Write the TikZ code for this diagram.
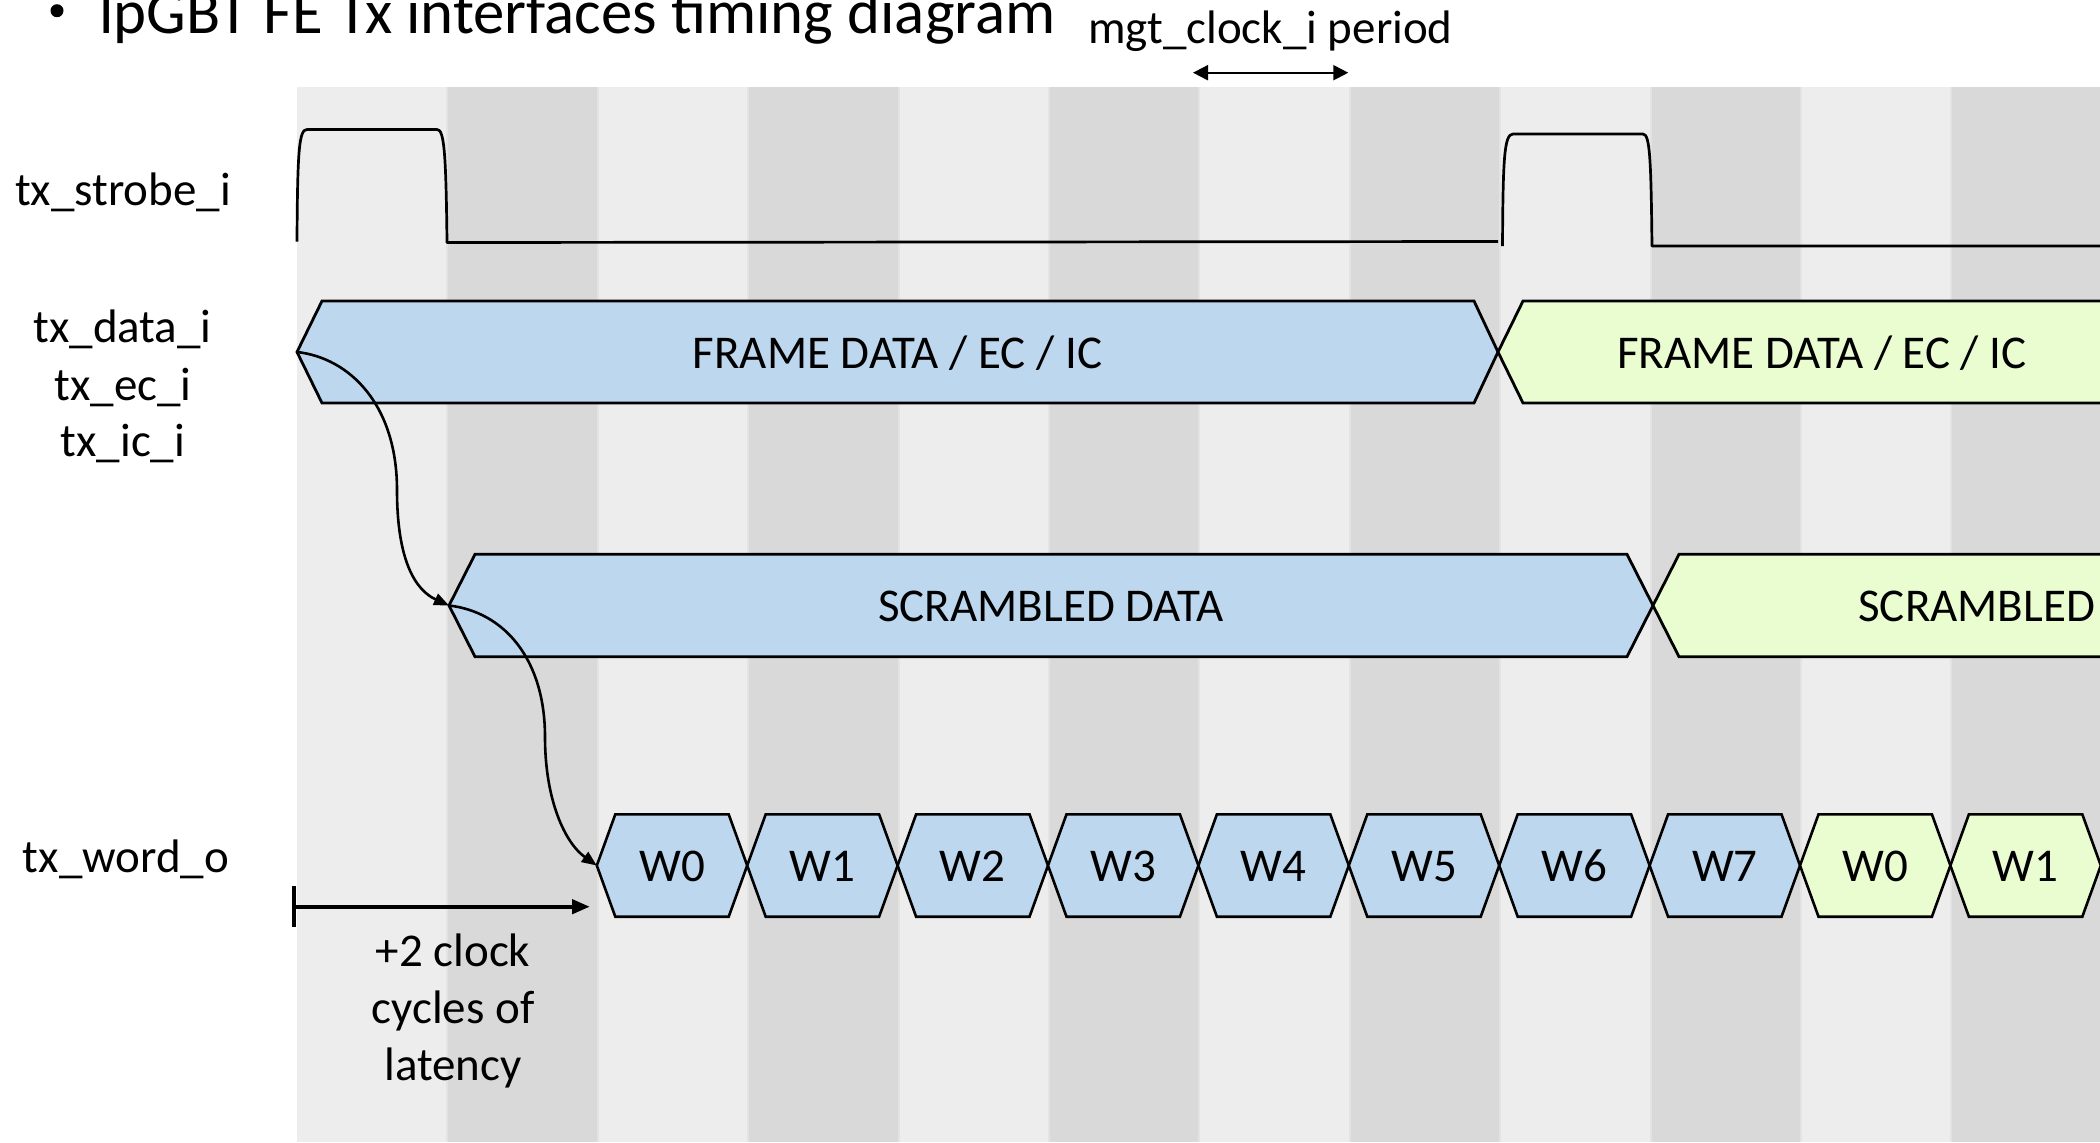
\documentclass[tikz,border=0pt]{standalone}
\usepackage{fontspec}
\setmainfont{Carlito}
\usetikzlibrary{arrows.meta}
\definecolor{stripeL}{HTML}{EDEDED}
\definecolor{stripeD}{HTML}{D9D9D9}
\definecolor{stripeSep}{HTML}{E3E3E3}
\definecolor{busBlue}{HTML}{BDD7EE}
\definecolor{busGreen}{HTML}{EAFDD1}
\begin{document}
\begin{tikzpicture}[x=0.5pt,y=-0.5pt,
  lbl/.style={inner sep=0pt, anchor=base, font=\fontsize{23.5}{28}\selectfont},
  sig/.style={line width=1.35pt, line join=round},
  busbox/.style={draw=black, line width=1.4pt, line join=miter},
  wordbox/.style={draw=black, line width=1.3pt, line join=miter},
  curvearrow/.style={line width=1.3pt, -{Triangle[length=7.5pt,width=6pt]}},
  latarrow/.style={line width=2.2pt, -{Triangle[length=9pt,width=7pt]}},
  periodarrow/.style={line width=1pt, {Triangle[length=7.5pt,width=7.5pt]}-{Triangle[length=7.5pt,width=7.5pt]}}
]
\useasboundingbox (0,0) rectangle (2100,1142);
\clip (0,0) rectangle (2100,1142);

% clock-period stripes
\foreach \i in {0,2,...,10} {
  \fill[stripeL] ({297+150.4*\i},87) rectangle ({297+150.4*(\i+1)},1142);
  \fill[stripeD] ({297+150.4*(\i+1)},87) rectangle ({297+150.4*(\i+2)},1142);
}
\foreach \i in {1,...,11} {
  \draw[stripeSep, line width=1pt] ({297+150.4*\i},87) -- ({297+150.4*\i},1142);
}

% title
\node[circle, fill=black, inner sep=0pt, minimum size=6.5pt] (bullet) at (57,10.7) {};
\node[inner sep=0pt, anchor=base west, font=\fontsize{31.4}{36}\selectfont] (title) at (98.7,33) {lpGBT FE Tx interfaces timing diagram};

% clock period
\node[lbl, anchor=base west] (period) at (1088,43) {mgt\_clock\_i period};
\coordinate (pA) at (1193,72.7);
\coordinate (pB) at (1348.3,72.7);
\draw[periodarrow] (pA) -- (pB);

% signal labels
\node[lbl] (lstrobe) at (123,205) {tx\_strobe\_i};
\node[lbl] (ldata) at (122.6,342.7) {tx\_data\_i};
\node[lbl] (lec) at (123,400) {tx\_ec\_i};
\node[lbl] (lic) at (123,456.7) {tx\_ic\_i};
\node[lbl] (lword) at (126,872.7) {tx\_word\_o};

% tx_strobe_i
\draw[sig] (297,241.5) .. controls (297.5,150) and (299,129.5) .. (307,129.5) -- (437,129.5)
  .. controls (444,129.5) and (446,150) .. (447,242.5) -- (1498,241.5);
\draw[sig] (1502.5,246) .. controls (1503,160) and (1504,134) .. (1513,134) -- (1643,134)
  .. controls (1650,134) and (1651,160) .. (1652,246) -- (2140,246);

% tx_data_i bus
\draw[busbox, fill=busBlue] (297,352) coordinate (dtip) -- (322,301) -- (1474,301) -- (1498,352) -- (1474,403) -- (322,403) -- cycle;
\draw[busbox, fill=busGreen] (1498,352) -- (1523,301) -- (2140,301) -- (2140,403) -- (1523,403) -- cycle;
\node[lbl] (data1) at (897.5,368) {FRAME DATA / EC / IC};
\node[lbl] (data2) at (1822,368) {FRAME DATA / EC / IC};

% scrambled bus
\draw[busbox, fill=busBlue] (449,605.5) coordinate (stip) -- (475,554.3) -- (1627,554.3) -- (1653,605.5) -- (1627,656.7) -- (475,656.7) -- cycle;
\draw[busbox, fill=busGreen] (1653,605.5) -- (1679,554.3) -- (2140,554.3) -- (2140,656.7) -- (1679,656.7) -- cycle;
\node[lbl] (scr1) at (1051,621.5) {SCRAMBLED DATA};
\node[lbl, anchor=base west] (scr2) at (1858,621.5) {SCRAMBLED};

% tx_word_o words
\foreach \k/\lab/\col in {0/W0/busBlue,1/W1/busBlue,2/W2/busBlue,3/W3/busBlue,4/W4/busBlue,5/W5/busBlue,6/W6/busBlue,7/W7/busBlue,8/W0/busGreen,9/W1/busGreen} {
  \pgfmathsetmacro\xl{296+150.4*(2+\k)}
  \draw[wordbox, fill=\col] (\xl,865.5) coordinate (wtip\k) -- ++(18.5,-51.2) -- ++(113.4,0) -- ++(18.5,51.2) -- ++(-18.5,51.2) -- ++(-113.4,0) -- cycle;
  \node[lbl] (w\k) at ({\xl+75.2},881) {\lab};
}

% causality arrows
\coordinate (m1) at (397,490);
\coordinate (m2) at (545,737);
\draw[curvearrow] (dtip) .. controls (350,358) and (397,405) .. (m1) .. controls (397,560) and (415,590) .. (stip);
\draw[curvearrow] (stip) .. controls (505,612) and (545,660) .. (m2) .. controls (545,800) and (565,843) .. (wtip0);

% latency
\coordinate (lat0) at (294,906.7);
\coordinate (lat1) at (590,906.7);
\draw[line width=2pt] (294,886) -- (294,927);
\draw[latarrow] (lat0) -- (lat1);
\node[lbl] (lat1txt) at (453,966) {+2 clock};
\node[lbl] (lat2txt) at (453,1023) {cycles of};
\node[lbl] (lat3txt) at (453,1080) {latency};
\end{tikzpicture}
\end{document}
